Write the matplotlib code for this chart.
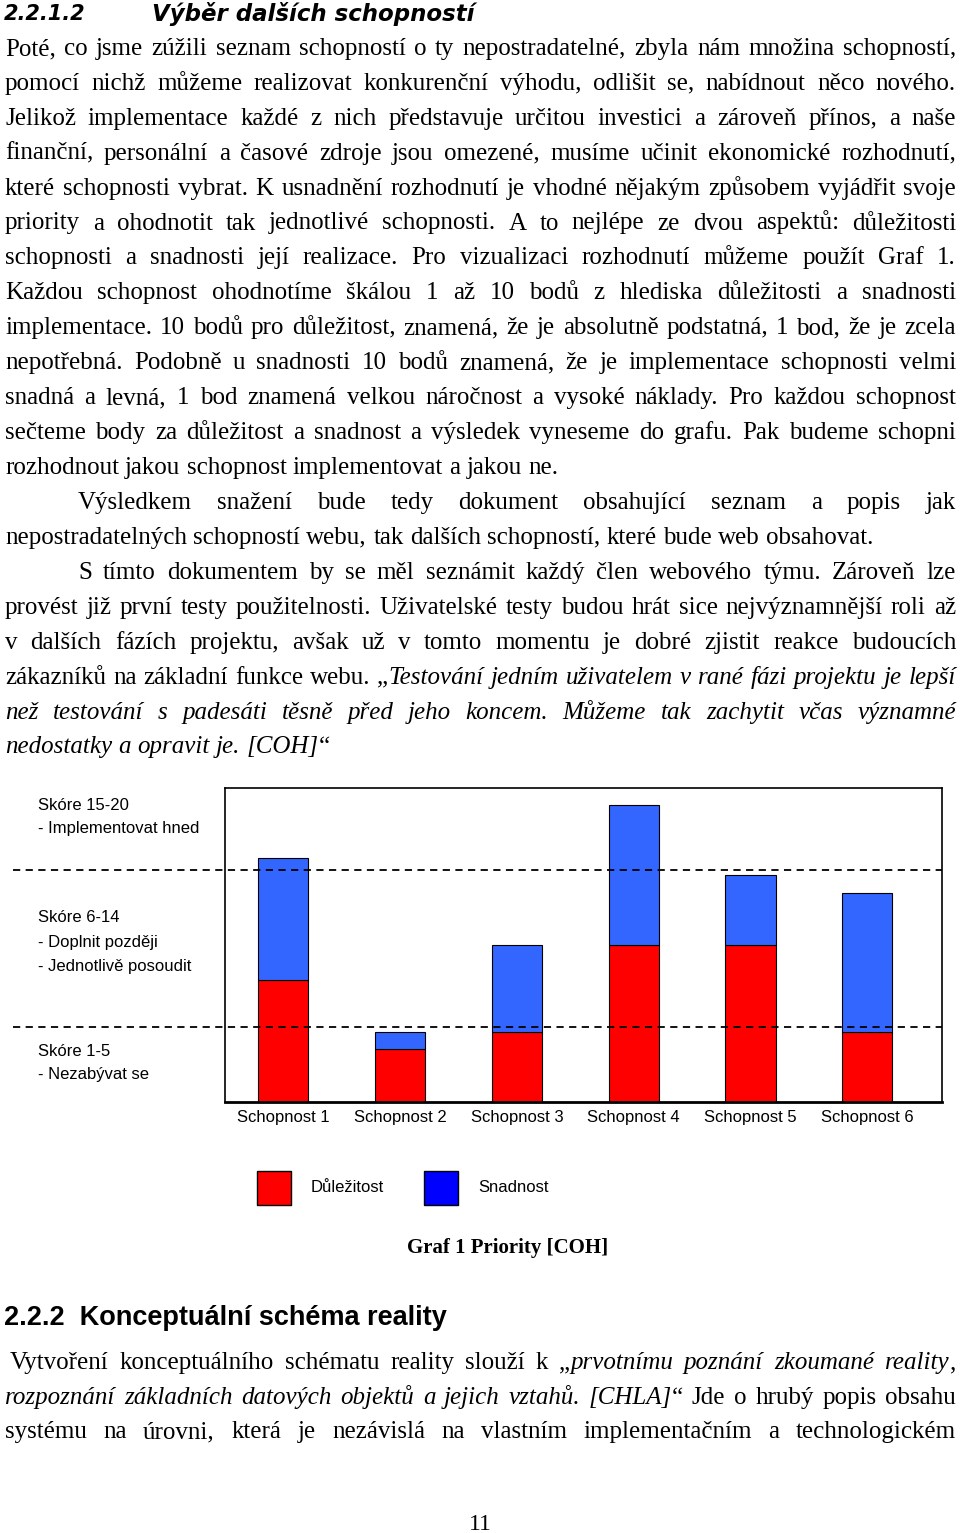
import numpy as np
import matplotlib.pyplot as plt
from matplotlib.patches import Rectangle

# data
kategorie = ["Schopnost 1", "Schopnost 2", "Schopnost 3", "Schopnost 4", "Schopnost 5", "Schopnost 6"]
dulezitost = [7, 3, 4, 9, 9, 4]
snadnost = [7, 1, 5, 8, 4, 8]
hranice = [4.3, 13.3]
pasma = [("Skóre 15-20", ["- Implementovat hned"]),
         ("Skóre 6-14", ["- Doplnit později", "- Jednotlivě posoudit"]),
         ("Skóre 1-5", ["- Nezabývat se"])]
legenda = ["Důležitost", "Snadnost"]

odstavec1 = [
    "Poté, co jsme zúžili seznam schopností o ty nepostradatelné, zbyla nám množina schopností,",
    "pomocí nichž můžeme realizovat konkurenční výhodu, odlišit se, nabídnout něco nového.",
    "Jelikož implementace každé z nich představuje určitou investici a zároveň přínos, a naše",
    "finanční, personální a časové zdroje jsou omezené, musíme učinit ekonomické rozhodnutí,",
    "které schopnosti vybrat. K usnadnění rozhodnutí je vhodné nějakým způsobem vyjádřit svoje",
    "priority a ohodnotit tak jednotlivé schopnosti. A to nejlépe ze dvou aspektů: důležitosti",
    "schopnosti a snadnosti její realizace. Pro vizualizaci rozhodnutí můžeme použít Graf 1.",
    "Každou schopnost ohodnotíme škálou 1 až 10 bodů z hlediska důležitosti a snadnosti",
    "implementace. 10 bodů pro důležitost, znamená, že je absolutně podstatná, 1 bod, že je zcela",
    "nepotřebná. Podobně u snadnosti 10 bodů znamená, že je implementace schopnosti velmi",
    "snadná a levná, 1 bod znamená velkou náročnost a vysoké náklady. Pro každou schopnost",
    "sečteme body za důležitost a snadnost a výsledek vyneseme do grafu. Pak budeme schopni",
    "rozhodnout jakou schopnost implementovat a jakou ne.",
]
odstavec2 = [
    "Výsledkem snažení bude tedy dokument obsahující seznam a popis jak",
    "nepostradatelných schopností webu, tak dalších schopností, které bude web obsahovat.",
]
odstavec3 = [
    "S tímto dokumentem by se měl seznámit každý člen webového týmu. Zároveň lze",
    "provést již první testy použitelnosti. Uživatelské testy budou hrát sice nejvýznamnější roli až",
    "v dalších fázích projektu, avšak už v tomto momentu je dobré zjistit reakce budoucích",
    "zákazníků na základní funkce webu. „|Testování jedním uživatelem v rané fázi projektu je lepší",
    "|než testování s padesáti těsně před jeho koncem. Můžeme tak zachytit včas významné",
    "|nedostatky a opravit je. [COH]|“",
]
odstavec4 = [
    "Vytvoření konceptuálního schématu reality slouží k „|prvotnímu poznání zkoumané reality|,",
    "|rozpoznání základních datových objektů a jejich vztahů. [CHLA]|“ Jde o hrubý popis obsahu",
    "systému na úrovni, která je nezávislá na vlastním implementačním a technologickém",
]

W, H = 960, 1533
fig = plt.figure(figsize=(9.6, 15.33), dpi=100)
r = fig.canvas.get_renderer()
SERIF = "Liberation Serif"
SANS = "Liberation Sans"


def fx(x):
    return x / W


def fy(y):
    return 1 - y / H


def sirka(t):
    return t.get_window_extent(r).width


def radek(txt, yc, x0=5, x1=956, zarovnat=True, size=18):
    base = yc + 7
    slova = []
    kurziva = False
    for w in txt.split():
        kusy = []
        for k, cast in enumerate(w.split("|")):
            if k > 0:
                kurziva = not kurziva
            if cast:
                t = fig.text(0, fy(base), cast, fontsize=size, family=SERIF,
                             style="italic" if kurziva else "normal", va="baseline")
                kusy.append(t)
        if kusy:
            slova.append(kusy)
    sirky = [sum(sirka(t) for t in s) for s in slova]
    if zarovnat and len(slova) > 1:
        mezera = (x1 - x0 - sum(sirky)) / (len(slova) - 1)
    else:
        a = fig.text(0, 0, "a a", fontsize=size, family=SERIF)
        b = fig.text(0, 0, "aa", fontsize=size, family=SERIF)
        mezera = sirka(a) - sirka(b)
        a.remove()
        b.remove()
    x = x0
    for s, sw in zip(slova, sirky):
        for t in s:
            t.set_x(fx(x))
            x += sirka(t)
        x += mezera


def odstavec(radky, y0, odsazeni=5, krok=34.9):
    for i, txt in enumerate(radky):
        posledni = i == len(radky) - 1
        radek(txt, y0 + i * krok, x0=odsazeni if i == 0 else 5, zarovnat=not posledni)


# heading
fig.text(fx(4), fy(14), "2.2.1.2", fontsize=15, family="DejaVu Sans", weight="bold",
         style="italic", va="center")
fig.text(fx(152), fy(14), "Výběr dalších schopností", fontsize=16.5, family="DejaVu Sans",
         weight="bold", style="italic", va="center")

odstavec(odstavec1, 48)
odstavec(odstavec2, 502, odsazeni=78)
odstavec(odstavec3, 572, odsazeni=78)

# chart
ax = fig.add_axes([fx(225), fy(1101.7), 717 / W, 313.7 / H])
pozice = np.arange(len(kategorie))
ax.bar(pozice, dulezitost, width=0.43, color="#FF0000", edgecolor="black", linewidth=0.8)
ax.bar(pozice, snadnost, width=0.43, bottom=dulezitost, color="#3366FF",
       edgecolor="black", linewidth=0.8)
ax.set_xlim(-0.5, 5.64)
ax.set_ylim(0, 18)
ax.set_yticks([])
ax.set_xticks(pozice)
ax.set_xticklabels(kategorie, fontsize=12, family=SANS)
ax.tick_params(axis="x", length=0, pad=6)
for s in ax.spines.values():
    s.set_linewidth(1.2)
ax.spines["bottom"].set_linewidth(2)
for h in hranice:
    ax.axhline(h, xmin=-0.296, xmax=1, color="black", linestyle=(0, (4, 3)),
               linewidth=1.3, clip_on=False)

y_pasma = [805, 918, 1051]
for (nadpis, body), y in zip(pasma, y_pasma):
    fig.text(fx(38), fy(y), nadpis, fontsize=12, family=SANS, va="center")
    for j, b in enumerate(body):
        fig.text(fx(38), fy(y + 24 * (j + 1)), b, fontsize=12, family=SANS, va="center")

# legend
for (lab, col, x) in zip(legenda, ["#FF0000", "#0000FF"], [257, 424]):
    fig.patches.append(Rectangle((fx(x), fy(1205)), 34 / W, 34 / H, transform=fig.transFigure,
                                 facecolor=col, edgecolor="black", linewidth=1))
    fig.text(fx(x + 54), fy(1188), lab, fontsize=12, family=SANS, va="center")

fig.text(fx(508), fy(1248), "Graf 1 Priority [COH]", fontsize=15, family=SERIF,
         weight="bold", ha="center", va="center")

fig.text(fx(4), fy(1318), "2.2.2  Konceptuální schéma reality", fontsize=19.5,
         family=SANS, weight="bold", va="center")

for i, txt in enumerate(odstavec4):
    radek(txt, 1362 + i * 34.7, x0=10 if i == 0 else 5)

fig.text(fx(480), fy(1524), "11", fontsize=17, family=SERIF, ha="center", va="center")

fig.savefig("out.png", dpi=100)
